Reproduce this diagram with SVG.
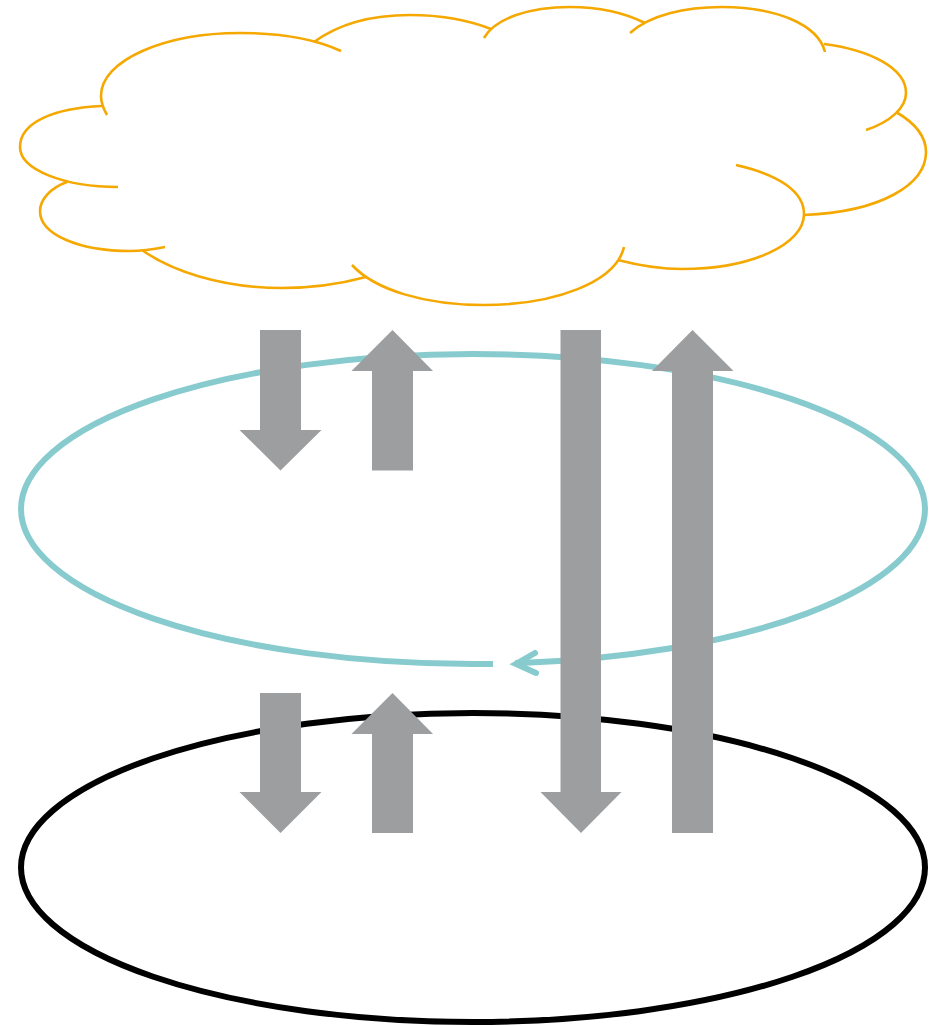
<svg xmlns="http://www.w3.org/2000/svg" width="938" height="1026" viewBox="0 0 938 1026">
<style>
.cloud{fill:none;stroke:#f5a800;stroke-width:2.6}
.ring{fill:none;stroke-width:6}
.arrow{fill:#9d9ea0}
</style>
<rect width="938" height="1026" fill="#fff"/>
<g id="cloud" class="cloud">
<path d="M107,115C103,108 101,102 101,96C101,60 165,33 240,33C280,33 315,39 341,51"/>
<path d="M314,42C340,23 375,15 410,15C440,15 468,20 491,29"/>
<path d="M484,38C495,18 530,7 570,7C600,7 625,13 645,23"/>
<path d="M630,33C650,15 685,7 722,7C775,7 818,24 825,52"/>
<path d="M824,44C870,50 906,68 906,93C906,108 890,122 866,130"/>
<path d="M896,112C915,123 926,137 926,152C926,185 880,212 804,215"/>
<path d="M736,165C780,175 804,192 804,214C804,245 750,269 682,269C658,269 637,265 618,260"/>
<path d="M624,247C616,282 555,305 484,305C425,305 375,290 352,265"/>
<path d="M366,277C340,284 310,288 282,288C220,288 170,270 142,250"/>
<path d="M165,247C150,250 142,251 130,251C80,251 40,235 40,211C40,200 50,188 67,182"/>
<path d="M118,187C65,187 20,170 20,147C20,122 55,108 102,106"/>
</g>
<g id="atmosphere-ring">
<path class="ring" stroke="#88cbce" d="M493,664H473A452,155 0 0 1 21,509A452,155 0 0 1 925,509A452,155 0 0 1 515,663.3"/>
<path fill="none" stroke="#88cbce" stroke-width="6" stroke-linecap="round" d="M535,653L516,664L536,673"/>
</g>
<g id="ground-ring">
<ellipse class="ring" stroke="#000" cx="473" cy="867.5" rx="452" ry="154.5"/>
</g>
<g id="connectors" class="arrow">
<path d="M260,330H301V430H321.500L280.500,470.500L239.500,430H260Z"/>
<path d="M372,470.500H413V371H433L392.500,330L351.500,371H372Z"/>
<path d="M560.500,330H601V792H621.500L581,833L540.500,792H560.500Z"/>
<path d="M672,833H713V371H733.500L692.500,330L652,371H672Z"/>
<path d="M260,693H301V792H321.500L280.500,833L239.500,792H260Z"/>
<path d="M372,833H413V734H433L392.500,693L351.500,734H372Z"/>
</g>
</svg>
